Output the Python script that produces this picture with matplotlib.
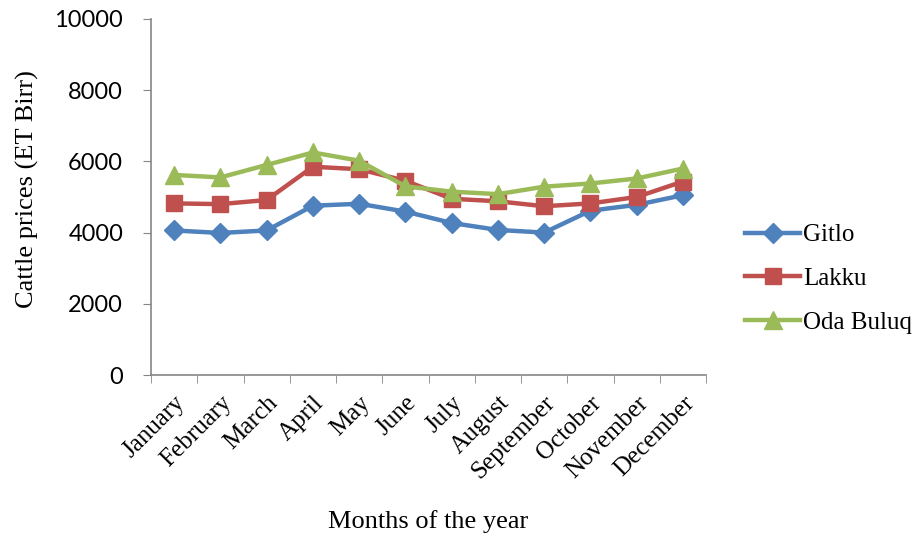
import matplotlib.pyplot as plt
import numpy as np
from matplotlib.ticker import FixedLocator

months = ["January", "February", "March", "April", "May", "June", "July",
          "August", "September", "October", "November", "December"]
gitlo = [4060, 3990, 4060, 4755, 4810, 4590, 4270, 4075, 4000, 4615, 4780, 5050]
lakku = [4820, 4800, 4915, 5850, 5780, 5455, 4950, 4880, 4740, 4820, 5000, 5435]
oda_buluq = [5620, 5550, 5900, 6250, 6020, 5300, 5150, 5080, 5290, 5380, 5520, 5800]
yticks = [0, 2000, 4000, 6000, 8000, 10000]

serif = "Liberation Serif"
sans = "Lato"

fig = plt.figure(figsize=(9.23, 5.33), dpi=100)
ax = fig.add_axes([0.1636, 0.2964, 0.6014, 0.668])

x = np.arange(len(months))
ax.plot(x, gitlo, color="#4F81BD", lw=3.2, marker="D", ms=10, label="Gitlo")
ax.plot(x, lakku, color="#C0504D", lw=3.2, marker="s", ms=11, label="Lakku")
ax.plot(x, oda_buluq, color="#9BBB59", lw=3.2, marker="^", ms=13, label="Oda Buluq")

ax.set_xlim(-0.5, len(months) - 0.5)
ax.set_ylim(0, 10000)
ax.set_yticks(yticks)
ax.set_yticklabels([str(v) for v in yticks], fontfamily=sans, fontsize=17)

ax.set_xticks(x)
ax.set_xticklabels(months, rotation=45, ha="right", rotation_mode="anchor",
                   fontfamily=serif, fontsize=18)
ax.tick_params(axis="x", which="major", length=0, pad=12)
ax.xaxis.set_minor_locator(FixedLocator(np.arange(-0.5, len(months), 1.0)))
ax.tick_params(axis="x", which="minor", length=6, color="#868686", direction="out")
ax.tick_params(axis="y", length=6, color="#868686", direction="out", pad=14)

for s in ["top", "right"]:
    ax.spines[s].set_visible(False)
for s in ["left", "bottom"]:
    ax.spines[s].set_color("#868686")
    ax.spines[s].set_linewidth(1.2)

fig.text(0.03, 0.645, "Cattle prices (ET Birr)", fontfamily=serif, fontsize=19,
         rotation=90, ha="center", va="center")
fig.text(0.464, 0.01, "Months of the year", fontfamily=serif, fontsize=19, ha="center")

leg = ax.legend(loc="center left", bbox_to_anchor=(1.03, 0.27), frameon=False,
                prop={"family": serif, "size": 18}, handlelength=2.2,
                handletextpad=0.1, labelspacing=0.85)

fig.savefig("out.png", dpi=100)
